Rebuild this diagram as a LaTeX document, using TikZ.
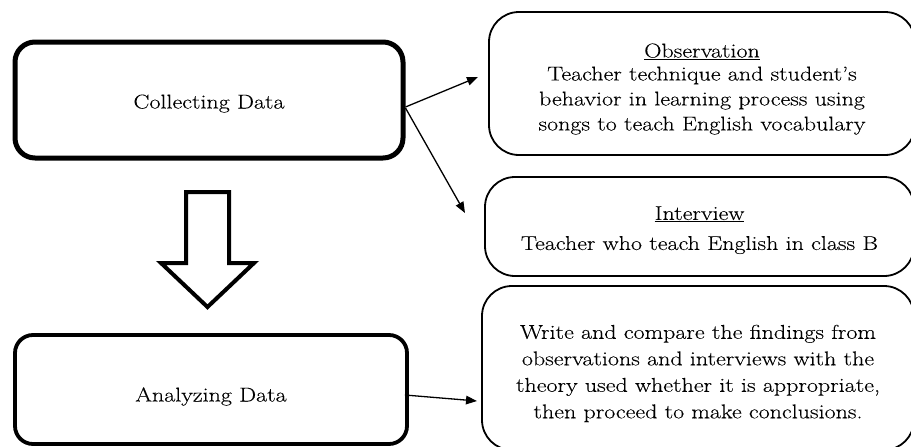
\documentclass[tikz,border=0pt]{standalone}
\usepackage{fontspec}
\setmainfont{Latin Modern Roman}[FakeStretch=1.2,FakeBold=0.15]
\usetikzlibrary{arrows.meta,positioning}
\newcommand{\toppad}[1]{\rule{0pt}{#1}}

\begin{document}
\begin{tikzpicture}[x=1pt,y=-1pt]
\tikzset{
  stepbox/.style={draw=black,rounded corners=20pt,line width=5pt,align=center,inner sep=0pt,font=\fontsize{20}{22}\selectfont},
  notebox/.style={draw=black,rounded corners=30pt,line width=1.8pt,align=center,inner sep=0pt,font=\fontsize{20}{25}\selectfont},
  link/.style={draw=black,line width=1.3pt,-{Triangle[length=11pt,width=8.5pt]}},
  hollow/.style={draw=black,line width=4pt,line join=miter,fill=white}
}
\useasboundingbox (0,0) rectangle (911,447);
% stages
\node[stepbox,minimum width=388pt,minimum height=116pt,text height=21pt,text depth=4pt] (n_collect) at (209,100) {Collecting Data};
\node[stepbox,minimum width=392pt,minimum height=109pt,line width=3.8pt,rounded corners=18pt,text height=28pt,text depth=4pt] (n_analyze) at (211,389.5) {Analyzing Data};
% details
\node[notebox,minimum width=426pt,minimum height=143pt] (n_observe) at (702,83.5)
  {\toppad{25pt}\underline{Observation}\\[-2pt]Teacher technique and student's\\behavior in learning process using\\songs to teach English vocabulary};
\node[notebox,minimum width=429pt,minimum height=99pt] (n_interview) at (699.5,226.5)
  {\toppad{21pt}\underline{Interview}\\[5pt]Teacher who teach English in class B};
\node[notebox,minimum width=432pt,minimum height=164pt,font=\fontsize{20}{26.5}\selectfont] (n_write) at (698,368)
  {\toppad{25pt}Write and compare the findings from\\observations and interviews with the\\theory used whether it is appropriate,\\then proceed to make conclusions.};
% block arrow
\draw[hollow] (186,192) -- (229,192) -- (229,263) -- (254,263) -- (207.5,307) -- (161,263) -- (186,263) -- cycle;
% connectors
\coordinate (t_observe) at (478,77);
\coordinate (t_interview) at (465,213);
\coordinate (t_write) at (477,401);
\draw[link] ([yshift=-7pt]n_collect.east) -- (t_observe);
\draw[link] ([yshift=-8pt]n_collect.east) -- (t_interview);
\draw[link] ([yshift=-5.5pt,xshift=-4pt]n_analyze.east) -- (t_write);
\end{tikzpicture}
\end{document}
